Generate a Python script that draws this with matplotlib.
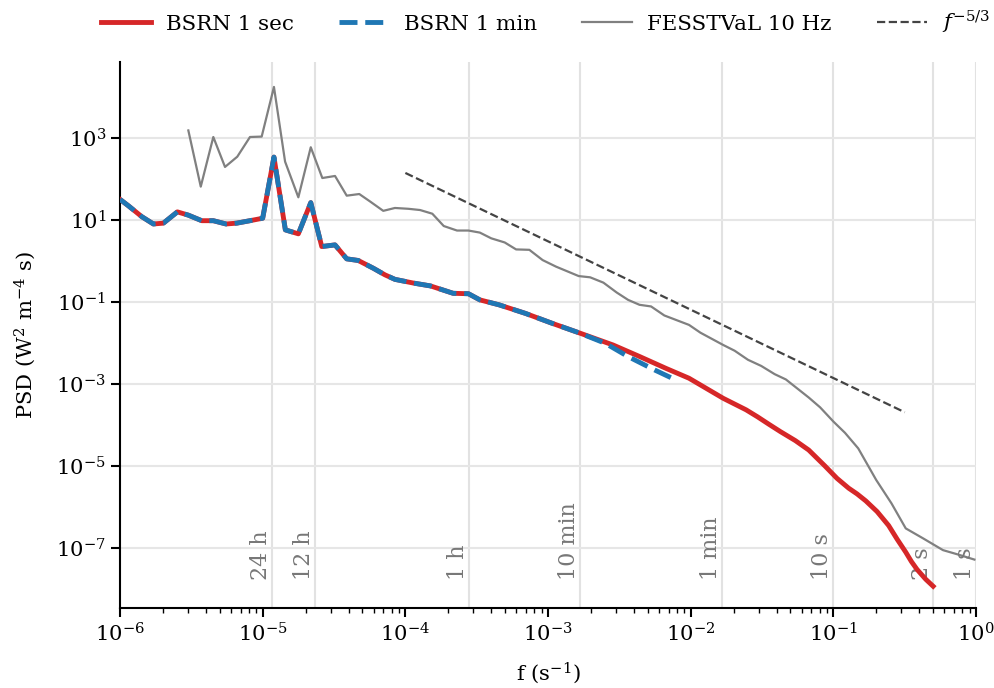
import numpy as np
import matplotlib
matplotlib.use("Agg")
import matplotlib.pyplot as plt
from matplotlib.ticker import LogLocator, NullLocator

plt.rcParams["font.family"] = "DejaVu Serif"
plt.rcParams["mathtext.fontset"] = "dejavuserif"
plt.rcParams["font.size"] = 15.2

# BSRN 1 sec spectrum (log10 f, log10 PSD)
bsrn_1s_logf = [-6.0, -5.94, -5.848, -5.766, -5.696, -5.598, -5.521, -5.427, -5.346,
                -5.257, -5.182, -5.089, -5.0, -4.921, -4.841, -4.75, -4.663, -4.586,
                -4.493, -4.411, -4.33, -4.224, -4.143, -4.073, -3.944, -3.824, -3.665,
                -3.558, -3.478, -3.344, -3.158, -2.972, -2.785, -2.544, -2.359, -2.173,
                -2.012, -1.772, -1.692, -1.612, -1.532, -1.453, -1.372, -1.267, -1.173,
                -1.059, -0.975, -0.893, -0.834, -0.773, -0.694, -0.613, -0.554, -0.493,
                -0.453, -0.414, -0.353, -0.301]
bsrn_1s_logp = [1.50, 1.34, 1.08, 0.90, 0.92, 1.195, 1.115, 0.98, 0.98,
                0.90, 0.92, 0.98, 1.04, 2.53, 0.756, 0.66, 1.42, 0.35,
                0.39, 0.05, 0.01, -0.18, -0.34, -0.45, -0.54, -0.61, -0.79,
                -0.80, -0.95, -1.07, -1.28, -1.52, -1.75, -2.05, -2.33, -2.62,
                -2.86, -3.35, -3.49, -3.63, -3.80, -3.98, -4.16, -4.38, -4.61,
                -5.00, -5.30, -5.54, -5.68, -5.85, -6.11, -6.45, -6.78, -7.10,
                -7.33, -7.52, -7.76, -7.93]

# BSRN 1 min spectrum
bsrn_1m_logf = [-6.0, -5.94, -5.848, -5.766, -5.696, -5.598, -5.521, -5.427, -5.346,
                -5.257, -5.182, -5.089, -5.0, -4.921, -4.841, -4.75, -4.663, -4.586,
                -4.493, -4.411, -4.33, -4.224, -4.143, -4.073, -3.944, -3.824, -3.665,
                -3.558, -3.478, -3.344, -3.158, -2.972, -2.785, -2.598, -2.44, -2.252,
                -2.118]
bsrn_1m_logp = [1.50, 1.34, 1.08, 0.90, 0.92, 1.195, 1.115, 0.98, 0.98,
                0.90, 0.92, 0.98, 1.04, 2.53, 0.756, 0.66, 1.42, 0.35,
                0.39, 0.05, 0.01, -0.18, -0.34, -0.45, -0.54, -0.61, -0.79,
                -0.80, -0.95, -1.07, -1.28, -1.52, -1.75, -2.01, -2.33, -2.66,
                -2.88]

# FESSTVaL 10 Hz spectrum
fess_logf = [-5.521, -5.434, -5.346, -5.264, -5.178, -5.089, -5.007, -4.921, -4.843,
             -4.75, -4.663, -4.582, -4.493, -4.411, -4.323, -4.248, -4.155, -4.073,
             -3.979, -3.897, -3.811, -3.731, -3.638, -3.558, -3.478, -3.398, -3.304,
             -3.224, -3.131, -3.038, -2.944, -2.785, -2.705, -2.612, -2.519, -2.439,
             -2.359, -2.278, -2.185, -2.012, -1.932, -1.772, -1.692, -1.599, -1.506,
             -1.412, -1.333, -1.253, -1.173, -1.093, -0.999, -0.919, -0.826, -0.70,
             -0.593, -0.493, -0.373, -0.232, -0.133, -0.012]
fess_logp = [3.18, 1.81, 3.02, 2.29, 2.54, 3.02, 3.03, 4.24, 2.42,
             1.55, 2.77, 2.02, 2.07, 1.59, 1.63, 1.45, 1.22, 1.29,
             1.27, 1.24, 1.15, 0.85, 0.74, 0.74, 0.69, 0.55, 0.45,
             0.28, 0.27, 0.02, -0.14, -0.37, -0.40, -0.53, -0.77, -0.95,
             -1.07, -1.11, -1.33, -1.56, -1.75, -2.05, -2.19, -2.41, -2.56,
             -2.76, -2.89, -3.11, -3.33, -3.57, -3.92, -4.19, -4.57, -5.34,
             -5.91, -6.52, -6.76, -7.05, -7.15, -7.28]

# reference slope
ref_f = [1e-4, 10 ** -0.5]
ref_c = 3.0e-5

# period markers
period_labels = ["24 h", "12 h", "1 h", "10 min", "1 min", "10 s", "2 s", "1 s"]
period_seconds = [86400, 43200, 3600, 600, 60, 10, 2, 1]

x_ticks = [1e-6, 1e-5, 1e-4, 1e-3, 1e-2, 1e-1, 1e0]
y_ticks = [1e-7, 1e-5, 1e-3, 1e-1, 1e1, 1e3]

fig = plt.figure(figsize=(9.95, 6.88), dpi=100)
ax = fig.add_axes([0.1206, 0.1163, 0.8604, 0.7937])

for lab, sec in zip(period_labels, period_seconds):
    ax.axvline(1.0 / sec, color="#e2e2e2", lw=1.5, zorder=0)
    ax.text(1.0 / sec, 1.7e-8, lab, rotation=90, ha="right", va="bottom",
            color="#777777", fontsize=16)

ax.plot(10 ** np.array(bsrn_1s_logf), 10 ** np.array(bsrn_1s_logp),
        color="#d62728", lw=3.5, label="BSRN 1 sec", zorder=3)
ax.plot(10 ** np.array(bsrn_1m_logf), 10 ** np.array(bsrn_1m_logp),
        color="#1f77b4", lw=3.5, ls="--", label="BSRN 1 min", zorder=4)
ax.plot(10 ** np.array(fess_logf), 10 ** np.array(fess_logp),
        color="#808080", lw=1.6, label="FESSTVaL 10 Hz", zorder=2)
rf = np.array(ref_f)
ax.plot(rf, ref_c * rf ** (-5.0 / 3.0), color="#444444", lw=1.6,
        ls="--", label="$f^{-5/3}$", zorder=2)

ax.set_xscale("log")
ax.set_yscale("log")
ax.set_xlim(1e-6, 1)
ax.set_ylim(10 ** -8.46, 10 ** 4.85)
ax.set_xticks(x_ticks)
ax.set_yticks(y_ticks)
ax.yaxis.set_minor_locator(NullLocator())
ax.xaxis.set_minor_locator(LogLocator(base=10, subs=np.arange(2, 10), numticks=20))
ax.yaxis.grid(True, color="#e6e6e6", lw=1.5, zorder=0)
ax.set_axisbelow(True)

for s in ["top", "right"]:
    ax.spines[s].set_visible(False)
for s in ["left", "bottom"]:
    ax.spines[s].set_linewidth(1.5)
ax.tick_params(which="major", length=6.5, width=1.5)
ax.tick_params(which="minor", length=3.5, width=1.0)

ax.set_xlabel("f (s$^{-1}$)", labelpad=11)
ax.set_ylabel("PSD (W$^2$ m$^{-4}$ s)", labelpad=13)

ax.legend(loc="lower center", bbox_to_anchor=(0.497, 1.012), ncol=4, frameon=False,
          fontsize=15.4, handlelength=2.35, handletextpad=0.7, columnspacing=2.1)

fig.savefig("out.png", dpi=100)
